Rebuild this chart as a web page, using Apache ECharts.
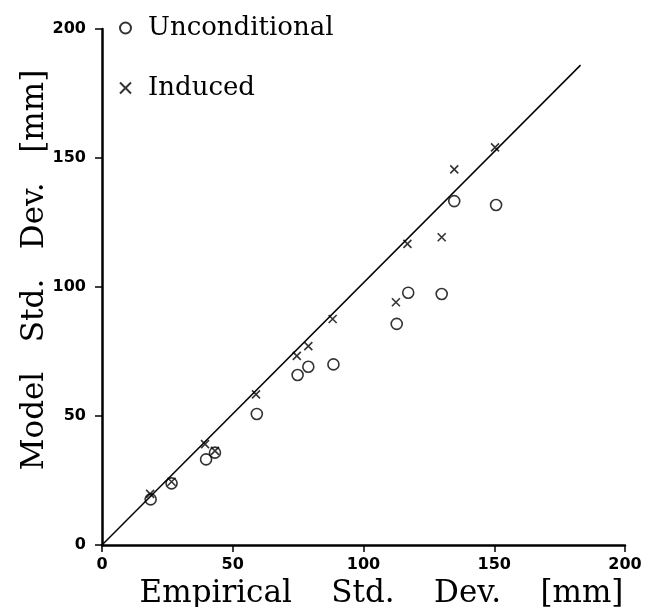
<!DOCTYPE html>
<html>
<head>
<meta charset="utf-8">
<script src="https://cdn.jsdelivr.net/npm/echarts@6/dist/echarts.min.js"></script>
<style>
  html, body { margin: 0; padding: 0; background: #fff; }
  #chart { width: 645px; height: 607px; }
</style>
</head>
<body>
<div id="chart"></div>
<script>
// empirical vs model std. dev. [mm]
var unconditionalPts = [
  [18.6, 17.7], [26.6, 23.9], [39.8, 33.2], [43.2, 35.8], [59.2, 50.8],
  [74.8, 65.9], [78.9, 69.1], [88.5, 70.0], [112.7, 85.7], [117.1, 97.8],
  [129.9, 97.3], [134.7, 133.3], [150.7, 131.8]
];
var inducedPts = [
  [18.4, 19.8], [26.6, 24.5], [39.4, 39.1], [43.2, 36.5], [58.9, 58.4],
  [74.5, 73.3], [78.9, 77.1], [88.2, 87.6], [112.4, 94.1], [116.8, 116.7],
  [129.9, 119.3], [134.7, 145.6], [150.3, 154.1]
];
var fitLine = [[0, 0], [183, 186]];
var axisTicks = [0, 50, 100, 150, 200];

var serif = "DejaVu Serif";
var crossPath = "path://M0,0L10,10M10,0L0,10";

var chart = echarts.init(document.getElementById("chart"));

var tickLabel = { fontFamily: "DejaVu Sans", fontWeight: "bold", fontSize: 16, color: "#000" };

var option = {
  backgroundColor: "#fff",
  animation: false,
  grid: { left: 102, right: 20, top: 29, bottom: 62, outerBoundsMode: "none" },
  legend: {
    orient: "vertical",
    left: 114,
    top: 10,
    itemGap: 34,
    itemWidth: 11,
    itemHeight: 11,
    data: ["Unconditional", "Induced"],
    textStyle: { fontFamily: serif, fontSize: 26, color: "#000", padding: [0, 0, 0, 12] }
  },
  xAxis: {
    type: "value",
    min: axisTicks[0],
    max: axisTicks[axisTicks.length - 1],
    interval: 50,
    name: "Empirical    Std.    Dev.    [mm]",
    nameLocation: "middle",
    nameGap: 33,
    nameMoveOverlap: false,
    nameTextStyle: { fontFamily: serif, fontSize: 31, color: "#000", padding: [0, 0, 0, 36] },
    axisLine: { lineStyle: { color: "#000", width: 2.5 } },
    axisTick: { show: true, inside: false, length: 7, lineStyle: { color: "#000", width: 1.5 } },
    axisLabel: Object.assign({ margin: 12 }, tickLabel),
    splitLine: { show: false }
  },
  yAxis: {
    type: "value",
    min: axisTicks[0],
    max: axisTicks[axisTicks.length - 1],
    interval: 50,
    name: "Model   Std.   Dev.   [mm]",
    nameLocation: "middle",
    nameGap: 52,
    nameMoveOverlap: false,
    nameTextStyle: { fontFamily: serif, fontSize: 31, color: "#000", padding: [0, 0, 0, 34] },
    axisLine: { lineStyle: { color: "#000", width: 2.5 } },
    axisTick: { show: true, inside: false, length: 7, lineStyle: { color: "#000", width: 1.5 } },
    axisLabel: Object.assign({ margin: 16 }, tickLabel),
    splitLine: { show: false }
  },
  series: [
    {
      name: "fit",
      type: "line",
      data: fitLine,
      symbol: "none",
      lineStyle: { color: "#000", width: 1.5 },
      z: 1
    },
    {
      name: "Unconditional",
      type: "scatter",
      data: unconditionalPts,
      symbol: "circle",
      symbolSize: 11,
      itemStyle: { color: "rgba(0,0,0,0)", borderColor: "#000", borderWidth: 1.6 },
      z: 3
    },
    {
      name: "Induced",
      type: "scatter",
      data: inducedPts,
      symbol: crossPath,
      symbolSize: 8,
      itemStyle: { color: "rgba(0,0,0,0)", borderColor: "#000", borderWidth: 1.6 },
      z: 3
    }
  ]
};

chart.setOption(option);
</script>
</body>
</html>
